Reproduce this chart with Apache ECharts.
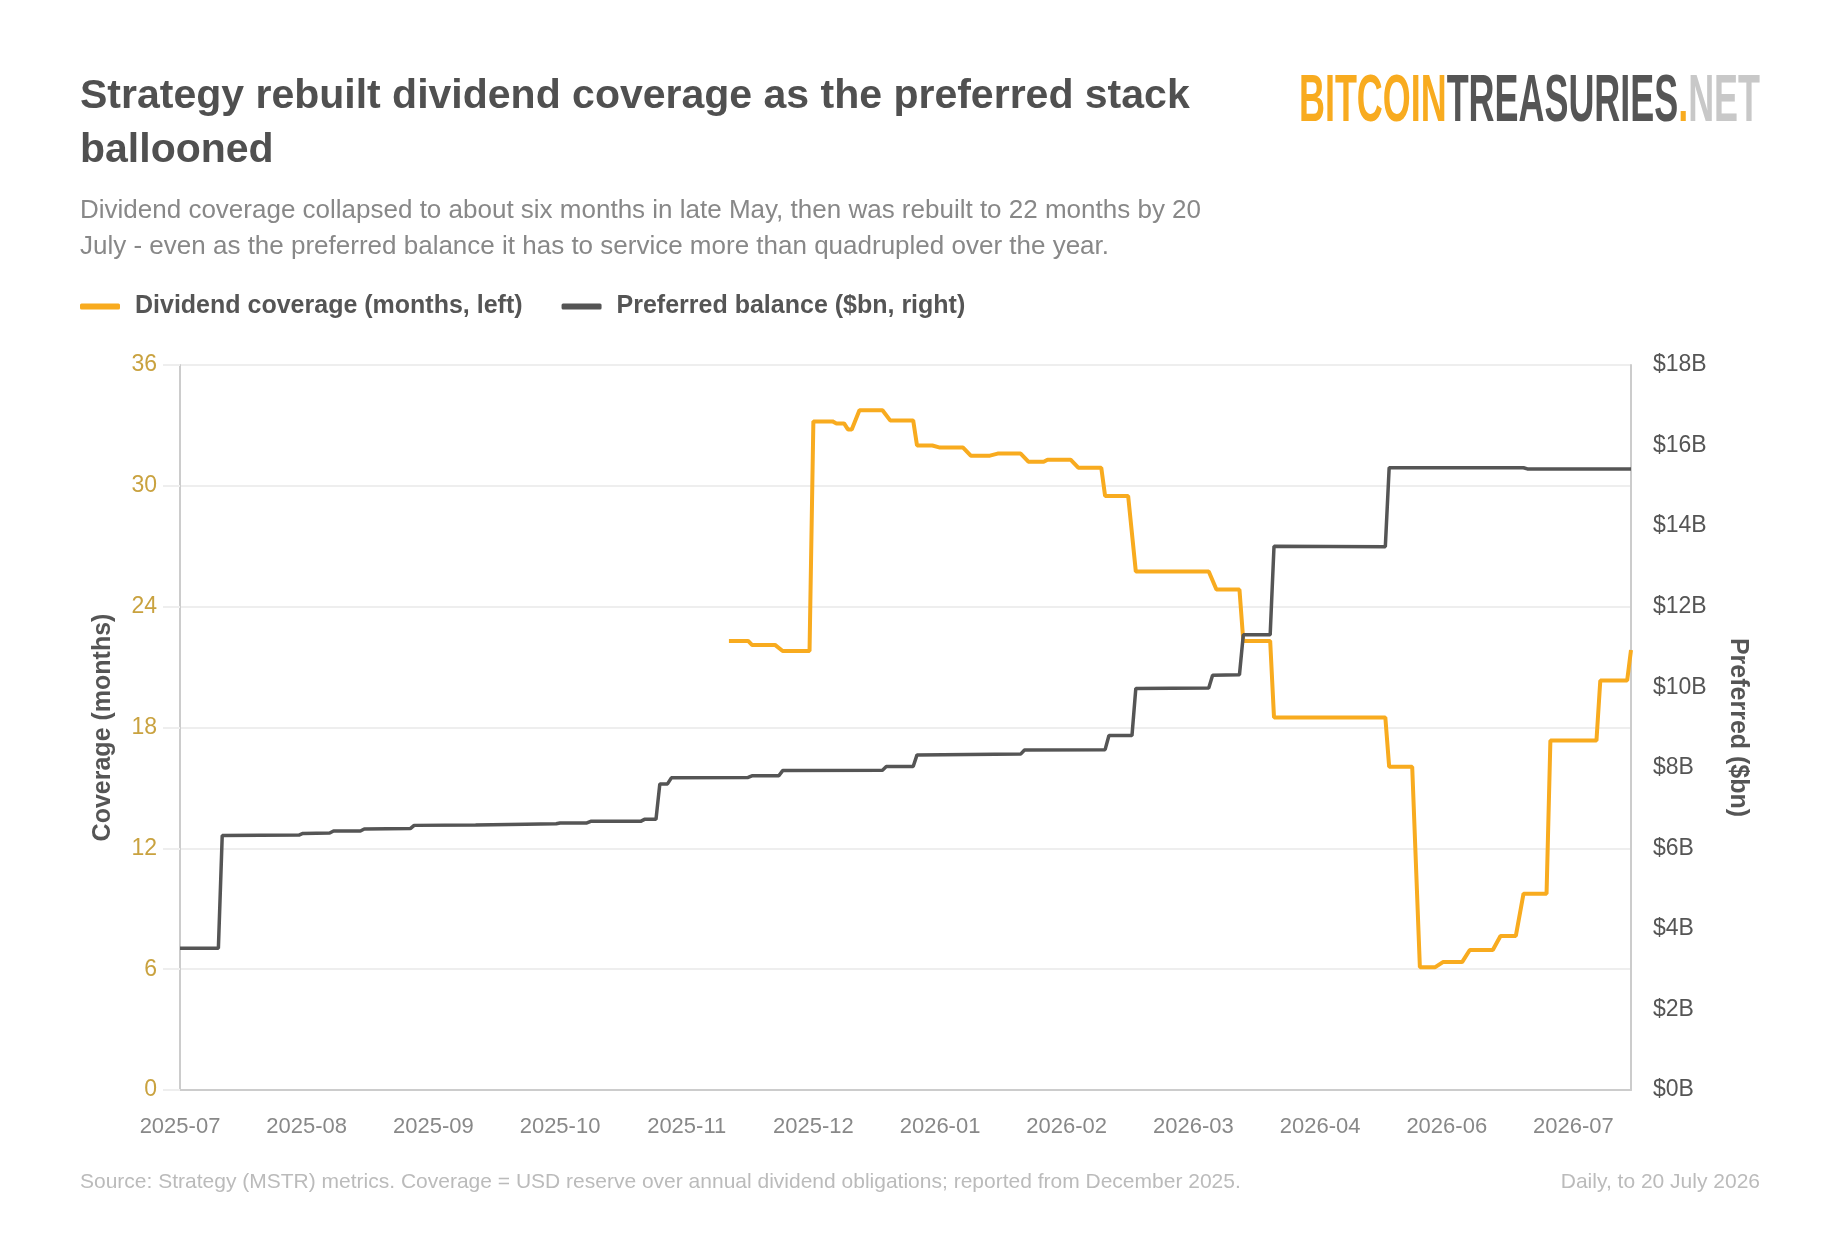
<!DOCTYPE html>
<html>
<head>
<meta charset="utf-8">
<title>Strategy dividend coverage</title>
<script src="https://cdn.jsdelivr.net/npm/echarts@6.0.0/dist/echarts.min.js"></script>
<style>
    html, body { margin: 0; padding: 0; background: #fff; }
    #chart { width: 1840px; height: 1244px; }
</style>
</head>
<body>
<div id="chart"></div>
<script>
(function () {
    "use strict";

    // daily axis, first and last day
    var startDay = '2025-07-07';
    var endDay = '2026-07-20';

    // preferred balance ($bn) - vertices of the daily line
    var preferredDates = [
        '2025-07-07', '2025-07-17', '2025-07-18', '2025-08-07', '2025-08-08', '2025-08-15', '2025-08-16',
        '2025-08-23', '2025-08-24', '2025-09-05', '2025-09-06', '2025-09-22', '2025-10-05', '2025-10-13',
        '2025-10-14', '2025-10-21', '2025-10-22', '2025-11-04', '2025-11-05', '2025-11-08', '2025-11-09',
        '2025-11-11', '2025-11-12', '2025-12-02', '2025-12-03', '2025-12-10', '2025-12-11', '2026-01-06',
        '2026-01-07', '2026-01-14', '2026-01-15', '2026-02-11', '2026-02-12', '2026-03-05', '2026-03-06',
        '2026-03-12', '2026-03-13', '2026-04-01', '2026-04-02', '2026-04-09', '2026-04-10', '2026-04-17',
        '2026-04-18', '2026-05-17', '2026-05-18', '2026-06-22', '2026-06-23', '2026-07-20'
    ];
    var preferredValues = [
        3.52, 3.52, 6.32, 6.33, 6.37, 6.38, 6.43,
        6.43, 6.48, 6.49, 6.57, 6.58, 6.60, 6.61,
        6.63, 6.63, 6.67, 6.67, 6.72, 6.72, 7.60,
        7.60, 7.75, 7.76, 7.80, 7.80, 7.93, 7.94,
        8.03, 8.03, 8.32, 8.34, 8.44, 8.45, 8.80,
        8.80, 9.97, 9.98, 10.30, 10.31, 11.30, 11.30,
        13.50, 13.49, 15.45, 15.45, 15.42, 15.42
    ];

    // dividend coverage (months) - vertices, reported from late 2025
    var coverageDates = [
        '2025-11-27', '2025-12-02', '2025-12-03', '2025-12-09', '2025-12-11', '2025-12-18', '2025-12-19',
        '2025-12-24', '2025-12-25', '2025-12-27', '2025-12-28', '2025-12-29', '2025-12-31', '2026-01-06',
        '2026-01-08', '2026-01-14', '2026-01-15', '2026-01-19', '2026-01-21', '2026-01-27', '2026-01-29',
        '2026-02-03', '2026-02-05', '2026-02-11', '2026-02-13', '2026-02-17', '2026-02-18', '2026-02-24',
        '2026-02-26', '2026-03-04', '2026-03-05', '2026-03-11', '2026-03-13', '2026-04-01', '2026-04-03',
        '2026-04-09', '2026-04-10', '2026-04-17', '2026-04-18', '2026-05-17', '2026-05-18', '2026-05-24',
        '2026-05-26', '2026-05-30', '2026-06-01', '2026-06-06', '2026-06-08', '2026-06-14', '2026-06-16',
        '2026-06-20', '2026-06-22', '2026-06-28', '2026-06-29', '2026-07-11', '2026-07-12', '2026-07-19',
        '2026-07-20'
    ];
    var coverageValues = [
        22.3, 22.3, 22.1, 22.1, 21.8, 21.8, 33.2,
        33.2, 33.1, 33.1, 32.8, 32.8, 33.75, 33.75,
        33.25, 33.25, 32.0, 32.0, 31.9, 31.9, 31.5,
        31.5, 31.6, 31.6, 31.2, 31.2, 31.3, 31.3,
        30.9, 30.9, 29.5, 29.5, 25.75, 25.75, 24.85,
        24.85, 22.3, 22.3, 18.5, 18.5, 16.05, 16.05,
        6.1, 6.1, 6.35, 6.35, 6.95, 6.95, 7.65,
        7.65, 9.75, 9.75, 17.35, 17.35, 20.33, 20.33,
        21.85
    ];

    var leftTicks = { min: 0, max: 36, interval: 6 };
    var rightTicks = { min: 0, max: 18, interval: 2 };

    var titleText = 'Strategy rebuilt dividend coverage as the preferred stack ballooned';
    var subLines = [
        'Dividend coverage collapsed to about six months in late May, then was rebuilt to 22 months by 20',
        'July - even as the preferred balance it has to service more than quadrupled over the year.'
    ];
    var sourceText = 'Source: Strategy (MSTR) metrics. Coverage = USD reserve over annual dividend obligations; reported from December 2025.';
    var noteText = 'Daily, to 20 July 2026';

    var FONT = '"Liberation Sans", Arial, Helvetica, sans-serif';
    var ORANGE = '#f8ab1f';
    var DARK = '#555555';

    function buildDays(start, end) {
        var out = [];
        var d = new Date(start + 'T00:00:00Z');
        var e = new Date(end + 'T00:00:00Z');
        while (d <= e) {
            out.push(d.toISOString().slice(0, 10));
            d.setUTCDate(d.getUTCDate() + 1);
        }
        return out;
    }

    function pairs(dates, values) {
        return dates.map(function (d, i) {
            return [d, values[i]];
        });
    }

    function logoScale(font, text, target) {
        var ctx = document.createElement('canvas').getContext('2d');
        ctx.font = font;
        return target / ctx.measureText(text).width;
    }

    var days = buildDays(startDay, endDay);
    var logoFont = 'bold 67px "Liberation Sans Narrow", "Liberation Sans", Arial, sans-serif';
    var sx = logoScale(logoFont, 'BITCOINTREASURIES.NET', 461);

    var chart = echarts.init(document.getElementById('chart'));

    var option = {
        animation: false,
        backgroundColor: '#fff',
        textStyle: { fontFamily: FONT },
        title: [{
            left: 80, top: 70, padding: 0,
            text: titleText,
            textStyle: {
                fontFamily: FONT, fontSize: 41, fontWeight: 'bold', color: '#505050',
                lineHeight: 54, width: 1200, overflow: 'break'
            }
        }, {
            left: 80, top: 1170, padding: 0,
            text: sourceText,
            textStyle: { fontFamily: FONT, fontSize: 21, fontWeight: 'normal', color: '#bbb', lineHeight: 24 }
        }, {
            right: 80, top: 1170, padding: 0,
            text: noteText,
            textStyle: { fontFamily: FONT, fontSize: 21, fontWeight: 'normal', color: '#bbb', lineHeight: 24 }
        }],
        graphic: [{
            type: 'text',
            x: 80, y: 193,
            style: {
                x: 0, y: 0,
                text: subLines.join('\n'),
                font: '26px ' + FONT,
                fill: '#888',
                lineHeight: 36,
                verticalAlign: 'top'
            }
        }, {
            type: 'text',
            x: 1299, y: 103,
            scaleX: sx,
            style: {
                x: 0, y: 0,
                text: '{a|BITCOIN}{b|TREASURIES}{a|.}{c|NET}',
                font: logoFont,
                verticalAlign: 'middle',
                rich: {
                    a: { font: logoFont, fill: ORANGE },
                    b: { font: logoFont, fill: DARK },
                    c: { font: logoFont, fill: '#c8c8c8' }
                }
            }
        }],
        legend: {
            left: 80, top: 294, padding: 0,
            itemWidth: 40, itemHeight: 6, itemGap: 39,
            icon: 'roundRect',
            textStyle: { fontFamily: FONT, fontSize: 25, fontWeight: 'bold', color: DARK, padding: [0, 0, 0, 10] },
            data: ['Dividend coverage (months, left)', 'Preferred balance ($bn, right)']
        },
        grid: { left: 180, right: 209, top: 365, bottom: 154 },
        xAxis: {
            type: 'category',
            data: days,
            boundaryGap: false,
            axisLine: { lineStyle: { color: '#ccc', width: 2 } },
            axisTick: { show: false },
            splitLine: { show: false },
            axisLabel: {
                interval: 32,
                margin: 26,
                fontSize: 22,
                color: '#888',
                formatter: function (v) { return v.slice(0, 7); }
            }
        },
        yAxis: [{
            type: 'value',
            position: 'left',
            min: leftTicks.min, max: leftTicks.max, interval: leftTicks.interval,
            name: 'Coverage (months)',
            nameLocation: 'middle',
            nameGap: 64,
            nameTextStyle: { fontFamily: FONT, fontSize: 25, fontWeight: 'bold', color: DARK },
            axisLine: { show: true, lineStyle: { color: '#ccc', width: 2 } },
            axisTick: { show: true, length: 17, lineStyle: { color: '#eee', width: 2 } },
            axisLabel: { fontSize: 23, color: '#c9a23f', margin: 23 },
            splitLine: { lineStyle: { color: '#eee', width: 2 } }
        }, {
            type: 'value',
            position: 'right',
            min: rightTicks.min, max: rightTicks.max, interval: rightTicks.interval,
            name: 'Preferred ($bn)',
            nameLocation: 'middle',
            nameGap: 94,
            nameRotate: -90,
            nameTextStyle: { fontFamily: FONT, fontSize: 25, fontWeight: 'bold', color: DARK },
            axisLine: { show: true, lineStyle: { color: '#ccc', width: 2 } },
            axisTick: { show: false },
            axisLabel: {
                fontSize: 23, color: DARK, margin: 22,
                formatter: function (v) { return '$' + v + 'B'; }
            },
            splitLine: { show: false }
        }],
        series: [{
            name: 'Dividend coverage (months, left)',
            type: 'line',
            yAxisIndex: 0,
            data: pairs(coverageDates, coverageValues),
            showSymbol: false,
            symbol: 'none',
            lineStyle: { color: ORANGE, width: 4 },
            itemStyle: { color: ORANGE }
        }, {
            name: 'Preferred balance ($bn, right)',
            type: 'line',
            yAxisIndex: 1,
            data: pairs(preferredDates, preferredValues),
            showSymbol: false,
            symbol: 'none',
            lineStyle: { color: DARK, width: 3.5 },
            itemStyle: { color: DARK }
        }]
    };

    chart.setOption(option);
}());
</script>
</body>
</html>
